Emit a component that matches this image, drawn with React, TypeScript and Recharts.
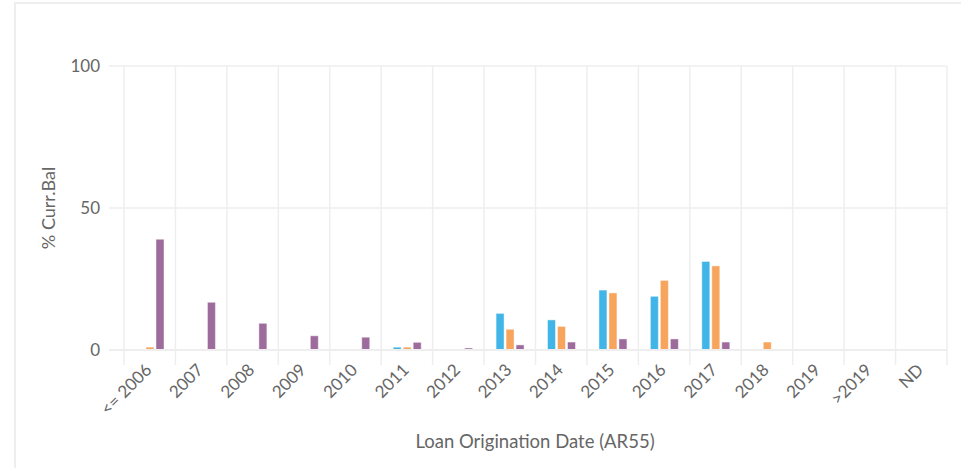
import {Bar, BarChart, CartesianGrid, Label, XAxis, YAxis} from 'recharts'

// Loan origination buckets and % of current balance per series
const categories = ['<= 2006', '2007', '2008', '2009', '2010', '2011', '2012', '2013', '2014', '2015', '2016', '2017', '2018', '2019', '>2019', 'ND']
const blueValues = [0, 0, 0, 0, 0, 1.0, 0, 12.9, 10.6, 21.1, 18.9, 31.2, 0, 0, 0, 0]
const orangeValues = [1.0, 0, 0, 0, 0, 1.0, 0, 7.3, 8.3, 20.1, 24.5, 29.6, 2.8, 0, 0, 0]
const purpleValues = [39.0, 16.8, 9.4, 5.0, 4.5, 2.7, 0.7, 1.8, 2.8, 3.9, 3.9, 2.8, 0, 0, 0, 0]
const yTicks = [0, 50, 100]

const data = categories.map((cat, i) => ({cat, blue: blueValues[i], orange: orangeValues[i], purple: purpleValues[i]}))

const W = 961
const H = 468
const MARGIN = {top: 66, right: 14, left: 30, bottom: 18}
const X_AXIS_H = 100
const PLOT_H = H - MARGIN.top - MARGIN.bottom - X_AXIS_H
const GRID = '#eeeeee'
const TEXT = '#666666'
const FONT = 'Lato, "Open Sans", sans-serif'

function CategoryTick(props: any) {
	const {x, y, payload, index} = props
	const half = payload.offset ?? 25.7
	const tx = x + 3
	const ty = y + 21
	return (
		<g>
			<line x1={x - half} x2={x - half} y1={y - PLOT_H} y2={y + 15} stroke={GRID} strokeWidth={1.5} />
			{index === categories.length - 1 && (
				<line x1={x + half} x2={x + half} y1={y - PLOT_H} y2={y + 15} stroke={GRID} strokeWidth={1.5} />
			)}
			<text x={tx} y={ty} textAnchor='end' fill={TEXT} fontSize={17} fontFamily={FONT} transform={`rotate(-45, ${tx}, ${ty})`}>
				{payload.value}
			</text>
		</g>
	)
}

function YTitle(props: any) {
	const vb = props.viewBox || {x: MARGIN.left, y: MARGIN.top, height: PLOT_H}
	const cx = vb.x + 18
	const cy = vb.y + vb.height / 2
	return (
		<text x={cx} y={cy} textAnchor='middle' dominantBaseline='central' fill={TEXT} fontSize={18} fontFamily={FONT} transform={`rotate(-90, ${cx}, ${cy})`}>
			% Curr.Bal
		</text>
	)
}

export default function App() {
	return (
		<div style={{position: 'absolute', top: 0, left: 0, width: W, height: H, background: '#fff', fontFamily: FONT}}>
			<div
				style={{
					position: 'absolute',
					left: 14,
					top: 2,
					width: W - 16,
					height: H - 4,
					borderLeft: `2px solid ${GRID}`,
					borderTop: `2px solid ${GRID}`,
				}}
			/>
			<div style={{position: 'absolute', top: 0, left: 0}}>
				<BarChart width={W} height={H} data={data} margin={MARGIN} barSize={8} barGap={2}>
					<CartesianGrid vertical={false} stroke={GRID} strokeWidth={1.5} />
					<XAxis
						dataKey='cat'
						interval={0}
						padding={{left: 15, right: 0}}
						height={X_AXIS_H}
						tickSize={0}
						tickMargin={0}
						tickLine={false}
						axisLine={{stroke: GRID, strokeWidth: 2}}
						tick={<CategoryTick />}
					>
						<Label value='Loan Origination Date (AR55)' position='insideBottom' offset={2} dx={7} fill={TEXT} fontSize={18.5} fontFamily={FONT} />
					</XAxis>
					<YAxis
						domain={[0, 100]}
						ticks={yTicks}
						width={79}
						axisLine={false}
						tickLine={false}
						tickSize={0}
						tickMargin={9}
						tick={{fill: TEXT, fontSize: 17, fontFamily: FONT}}
					>
						<Label content={<YTitle />} position='insideLeft' />
					</YAxis>
					<Bar dataKey='blue' fill='#42b5e8' stroke='rgba(255,255,255,0.45)' strokeWidth={1} isAnimationActive={false} />
					<Bar dataKey='orange' fill='#f7a45c' stroke='rgba(255,255,255,0.45)' strokeWidth={1} isAnimationActive={false} />
					<Bar dataKey='purple' fill='#9d6b9c' stroke='rgba(255,255,255,0.45)' strokeWidth={1} isAnimationActive={false} />
				</BarChart>
			</div>
		</div>
	)
}
